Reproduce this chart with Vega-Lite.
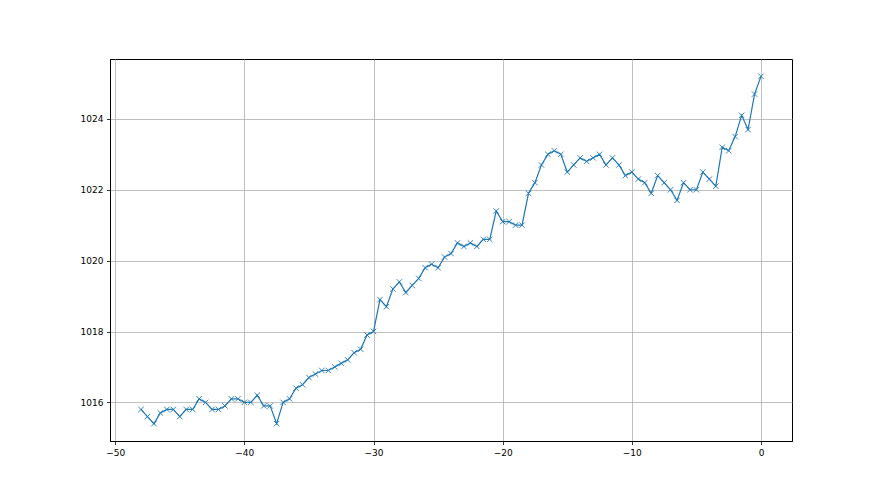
{
  "$schema": "https://vega.github.io/schema/vega-lite/v6.json",
  "width": 682,
  "height": 382,
  "autosize": {"type": "none"},
  "padding": {"left": 110, "top": 59, "right": 88, "bottom": 54},
  "background": "white",
  "config": {
    "view": {"stroke": "black", "strokeWidth": 1},
    "font": "DejaVu Sans",
    "axis": {
      "domainColor": "black",
      "domainWidth": 1,
      "tickColor": "black",
      "tickSize": 3.5,
      "tickWidth": 0.8,
      "labelFont": "DejaVu Sans",
      "labelFontSize": 9,
      "labelColor": "black",
      "labelPadding": 3.5,
      "gridColor": "#b0b0b0",
      "gridWidth": 0.8,
      "title": null
    }
  },
  "data": {
    "values": [
      {"t": -48, "p": 1015.8}, {"t": -47.5, "p": 1015.6}, {"t": -47, "p": 1015.4}, {"t": -46.5, "p": 1015.7},
      {"t": -46, "p": 1015.8}, {"t": -45.5, "p": 1015.8}, {"t": -45, "p": 1015.6}, {"t": -44.5, "p": 1015.8},
      {"t": -44, "p": 1015.8}, {"t": -43.5, "p": 1016.1}, {"t": -43, "p": 1016.0}, {"t": -42.5, "p": 1015.8},
      {"t": -42, "p": 1015.8}, {"t": -41.5, "p": 1015.9}, {"t": -41, "p": 1016.1}, {"t": -40.5, "p": 1016.1},
      {"t": -40, "p": 1016.0}, {"t": -39.5, "p": 1016.0}, {"t": -39, "p": 1016.2}, {"t": -38.5, "p": 1015.9},
      {"t": -38, "p": 1015.9}, {"t": -37.5, "p": 1015.4}, {"t": -37, "p": 1016.0}, {"t": -36.5, "p": 1016.1},
      {"t": -36, "p": 1016.4}, {"t": -35.5, "p": 1016.5}, {"t": -35, "p": 1016.7}, {"t": -34.5, "p": 1016.8},
      {"t": -34, "p": 1016.9}, {"t": -33.5, "p": 1016.9}, {"t": -33, "p": 1017.0}, {"t": -32.5, "p": 1017.1},
      {"t": -32, "p": 1017.2}, {"t": -31.5, "p": 1017.4}, {"t": -31, "p": 1017.5}, {"t": -30.5, "p": 1017.9},
      {"t": -30, "p": 1018.0}, {"t": -29.5, "p": 1018.9}, {"t": -29, "p": 1018.7}, {"t": -28.5, "p": 1019.2},
      {"t": -28, "p": 1019.4}, {"t": -27.5, "p": 1019.1}, {"t": -27, "p": 1019.3}, {"t": -26.5, "p": 1019.5},
      {"t": -26, "p": 1019.8}, {"t": -25.5, "p": 1019.9}, {"t": -25, "p": 1019.8}, {"t": -24.5, "p": 1020.1},
      {"t": -24, "p": 1020.2}, {"t": -23.5, "p": 1020.5}, {"t": -23, "p": 1020.4}, {"t": -22.5, "p": 1020.5},
      {"t": -22, "p": 1020.4}, {"t": -21.5, "p": 1020.6}, {"t": -21, "p": 1020.6}, {"t": -20.5, "p": 1021.4},
      {"t": -20, "p": 1021.1}, {"t": -19.5, "p": 1021.1}, {"t": -19, "p": 1021.0}, {"t": -18.5, "p": 1021.0},
      {"t": -18, "p": 1021.9}, {"t": -17.5, "p": 1022.2}, {"t": -17, "p": 1022.7}, {"t": -16.5, "p": 1023.0},
      {"t": -16, "p": 1023.1}, {"t": -15.5, "p": 1023.0}, {"t": -15, "p": 1022.5}, {"t": -14.5, "p": 1022.7},
      {"t": -14, "p": 1022.9}, {"t": -13.5, "p": 1022.8}, {"t": -13, "p": 1022.9}, {"t": -12.5, "p": 1023.0},
      {"t": -12, "p": 1022.7}, {"t": -11.5, "p": 1022.9}, {"t": -11, "p": 1022.7}, {"t": -10.5, "p": 1022.4},
      {"t": -10, "p": 1022.5}, {"t": -9.5, "p": 1022.3}, {"t": -9, "p": 1022.2}, {"t": -8.5, "p": 1021.9},
      {"t": -8, "p": 1022.4}, {"t": -7.5, "p": 1022.2}, {"t": -7, "p": 1022.0}, {"t": -6.5, "p": 1021.7},
      {"t": -6, "p": 1022.2}, {"t": -5.5, "p": 1022.0}, {"t": -5, "p": 1022.0}, {"t": -4.5, "p": 1022.5},
      {"t": -4, "p": 1022.3}, {"t": -3.5, "p": 1022.1}, {"t": -3, "p": 1023.2}, {"t": -2.5, "p": 1023.1},
      {"t": -2, "p": 1023.5}, {"t": -1.5, "p": 1024.1}, {"t": -1, "p": 1023.7}, {"t": -0.5, "p": 1024.7},
      {"t": 0, "p": 1025.2}
    ]
  },
  "encoding": {
    "x": {
      "field": "t",
      "type": "quantitative",
      "scale": {"domain": [-50.4, 2.4], "nice": false, "zero": false},
      "axis": {
        "values": [-50, -40, -30, -20, -10, 0],
        "labelExpr": "replace(datum.label, '-', '\u2212')",
        "grid": true
      }
    },
    "y": {
      "field": "p",
      "type": "quantitative",
      "scale": {"domain": [1014.91, 1025.69], "nice": false, "zero": false},
      "axis": {
        "values": [1016, 1018, 1020, 1022, 1024],
        "format": "d",
        "grid": true
      }
    }
  },
  "layer": [
    {"mark": {"type": "line", "color": "#1f77b4", "strokeWidth": 1.2}},
    {"mark": {"type": "point", "shape": "M-1,-1L1,1M-1,1L1,-1", "filled": false, "stroke": "#1f77b4", "strokeWidth": 0.9, "size": 30, "opacity": 1}}
  ]
}
